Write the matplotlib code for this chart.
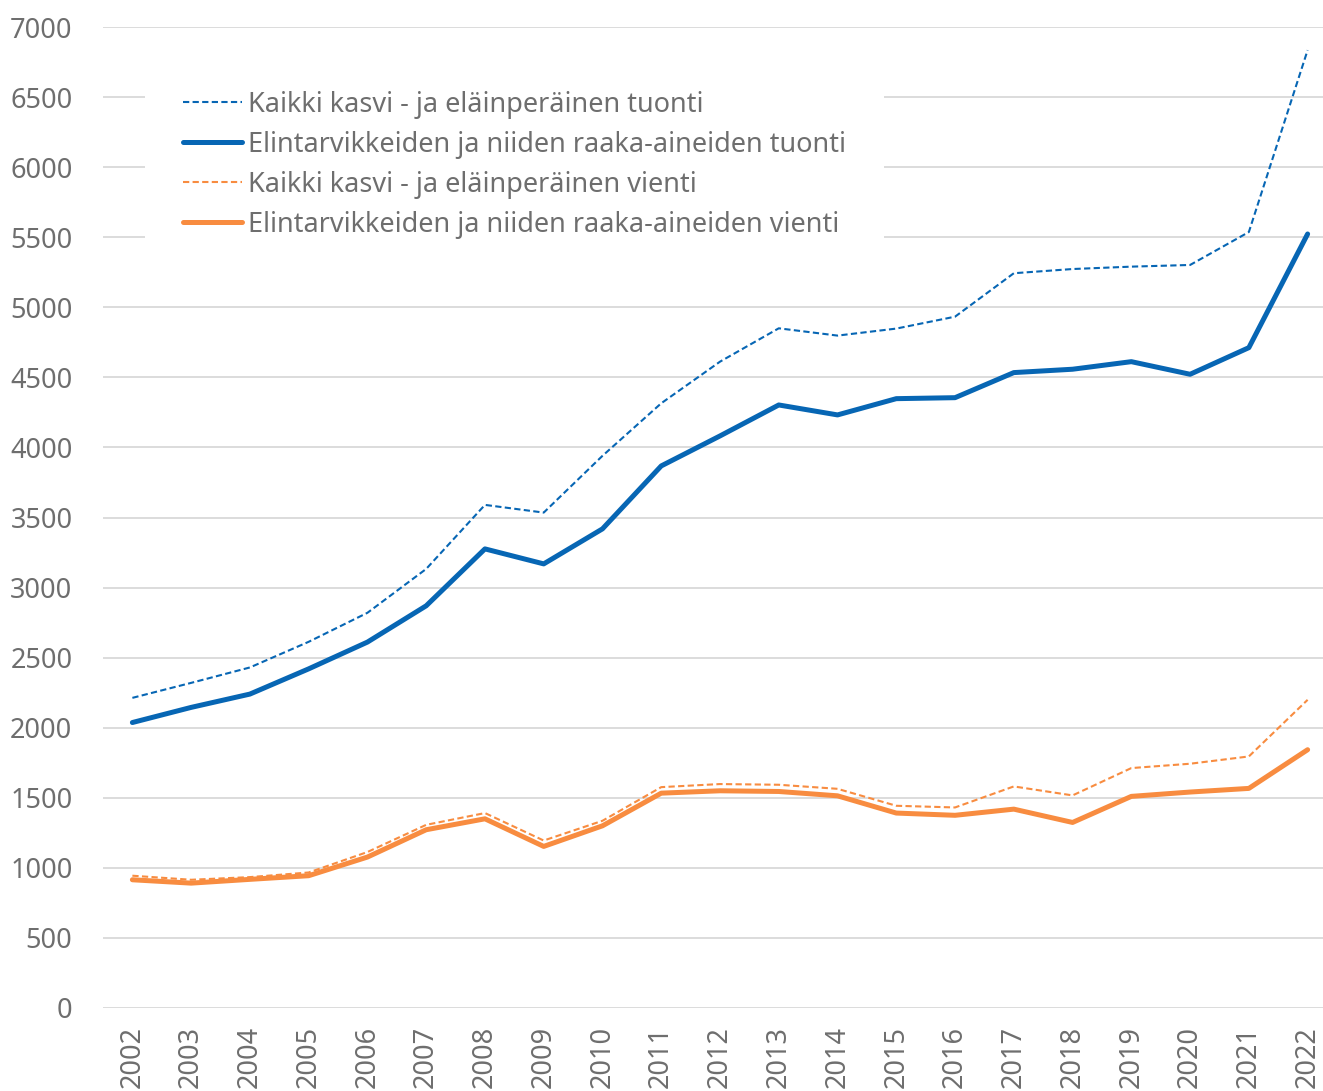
import matplotlib.pyplot as plt

years = list(range(2002, 2023))

# Kaikki kasvi- ja eläinperäinen tuonti
import_all = [2213, 2320, 2430, 2613, 2820, 3133, 3590, 3535, 3940, 4315,
              4612, 4850, 4798, 4848, 4933, 5243, 5273, 5290, 5302, 5537, 6835]
# Elintarvikkeiden ja niiden raaka-aineiden tuonti
import_food = [2037, 2145, 2240, 2420, 2611, 2870, 3276, 3169, 3419, 3868,
               4082, 4303, 4232, 4348, 4355, 4534, 4558, 4612, 4522, 4712, 5523]
# Kaikki kasvi- ja eläinperäinen vienti
export_all = [944, 915, 934, 967, 1113, 1307, 1391, 1195, 1336, 1576,
              1598, 1593, 1564, 1443, 1431, 1581, 1517, 1712, 1743, 1795, 2199]
# Elintarvikkeiden ja niiden raaka-aineiden vienti
export_food = [915, 891, 918, 944, 1077, 1272, 1350, 1153, 1300, 1533,
               1550, 1545, 1514, 1391, 1375, 1419, 1324, 1510, 1541, 1567, 1843]

labels = ["Kaikki kasvi - ja eläinperäinen tuonti",
          "Elintarvikkeiden ja niiden raaka-aineiden tuonti",
          "Kaikki kasvi - ja eläinperäinen vienti",
          "Elintarvikkeiden ja niiden raaka-aineiden vienti"]

blue = "#0766B4"
orange = "#F88C40"
grey_text = "#6E6E6E"

plt.rcParams['font.family'] = ['Noto Sans', 'DejaVu Sans']

fig = plt.figure(figsize=(13.23, 10.91), dpi=100)
ax = fig.add_axes([103 / 1323, 1 - 1008 / 1091, 1234 / 1323, 981 / 1091])

ax.plot(years, import_all, color=blue, lw=1.5, ls=(0, (3, 1.6)), label=labels[0])
ax.plot(years, import_food, color=blue, lw=3.6, solid_capstyle='round', label=labels[1])
ax.plot(years, export_all, color=orange, lw=1.5, ls=(0, (3, 1.6)), label=labels[2])
ax.plot(years, export_food, color=orange, lw=3.6, solid_capstyle='round', label=labels[3])

ax.set_xlim(2001.5, 2022.5)
ax.set_ylim(0, 7000)
ax.set_yticks(range(0, 7001, 500))
ax.set_xticks(years)
ax.set_xticklabels([str(y) for y in years], rotation=90)
ax.grid(axis='y', color='#D9D9D9', lw=1.3)
ax.set_axisbelow(True)
for s in ax.spines.values():
    s.set_visible(False)
ax.tick_params(length=0, labelsize=19.5, colors=grey_text, pad=13)
ax.tick_params(axis='y', pad=22)

leg = ax.legend(loc='upper left', bbox_to_anchor=(0.034, 0.9735), fontsize=19.5,
                frameon=True, framealpha=1, edgecolor='none', facecolor='white',
                handlelength=2.2, handletextpad=0.2, labelspacing=0.44,
                borderpad=1.4, borderaxespad=0, fancybox=False)
for t in leg.get_texts():
    t.set_color(grey_text)

fig.savefig("out.png", dpi=100)
